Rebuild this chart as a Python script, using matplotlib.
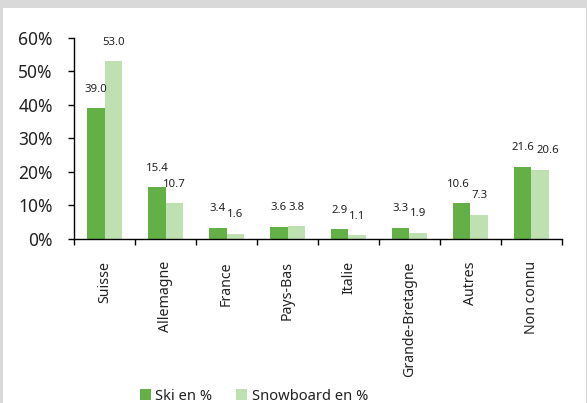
import numpy as np
import matplotlib.pyplot as plt
from matplotlib.patches import Rectangle

plt.rcParams['font.family'] = ['Noto Sans', 'DejaVu Sans']

pays = ["Suisse", "Allemagne", "France", "Pays-Bas", "Italie",
        "Grande-Bretagne", "Autres", "Non connu"]
ski = [39.0, 15.4, 3.4, 3.6, 2.9, 3.3, 10.6, 21.6]
snowboard = [53.0, 10.7, 1.6, 3.8, 1.1, 1.9, 7.3, 20.6]
yticks = [0, 10, 20, 30, 40, 50, 60]

dark = "#62b046"
light = "#bfe0b1"
textcol = "#222222"

W, H = 587, 403
fig = plt.figure(figsize=(W / 100, H / 100), dpi=100)
fig.patch.set_facecolor("#d9d9d9")
# white panel inside the grey frame
fig.patches.append(Rectangle((3 / W, 0), (586 / W) - (3 / W), (H - 8) / H,
                             transform=fig.transFigure, facecolor="white",
                             edgecolor="none", zorder=-5))

ax = fig.add_axes([74.3 / W, (H - 239) / H, (561.7 - 74.3) / W, (239 - 37.7) / H])
ax.set_facecolor("none")
ax.set_zorder(2)

x = np.arange(len(pays))
bw = 0.287
b1 = ax.bar(x - bw / 2, ski, bw, color=dark, label="Ski en %")
b2 = ax.bar(x + bw / 2, snowboard, bw, color=light, label="Snowboard en %")

# small horizontal nudges (in points) so neighbouring labels don't collide
nudge = {(0, 6): -2, (1, 7): 5.5}
for k, (bars, vals) in enumerate([(b1, ski), (b2, snowboard)]):
    for i, (b, v) in enumerate(zip(bars, vals)):
        ax.annotate("{:.1f}".format(v), (b.get_x() + b.get_width() / 2, v),
                    xytext=(nudge.get((k, i), 0), 13.7), textcoords="offset points",
                    ha="center", va="center", fontsize=8.2, color=textcol)

ax.set_xlim(-0.5, len(pays) - 0.5)
ax.set_ylim(0, 60)
ax.set_yticks(yticks)
ax.set_yticklabels(["{}%".format(t) for t in yticks])

ax.set_xticks(x)
ax.set_xticklabels(pays, rotation=90, ha="center", va="top")
ax.set_xticks(np.arange(len(pays) + 1) - 0.5, minor=True)
ax.tick_params(axis="x", which="major", length=0, pad=16, labelsize=10.2, colors=textcol)
ax.tick_params(axis="x", which="minor", length=4.5, width=1, direction="out")
ax.tick_params(axis="y", length=4.5, width=1, pad=11, labelsize=12.5)
for lab in ax.get_yticklabels():
    lab.set_color(textcol)

for s in ["top", "right"]:
    ax.spines[s].set_visible(False)
for s in ["left", "bottom"]:
    ax.spines[s].set_linewidth(1)

fig.legend(handles=[b1, b2], loc="center", bbox_to_anchor=(254 / W, (H - 396) / H),
           ncol=2, frameon=False, fontsize=10.6, handlelength=0.75, handleheight=0.75,
           handletextpad=0.3, columnspacing=1.6, labelcolor=textcol)

fig.savefig("out.png", dpi=100, facecolor=fig.get_facecolor())
